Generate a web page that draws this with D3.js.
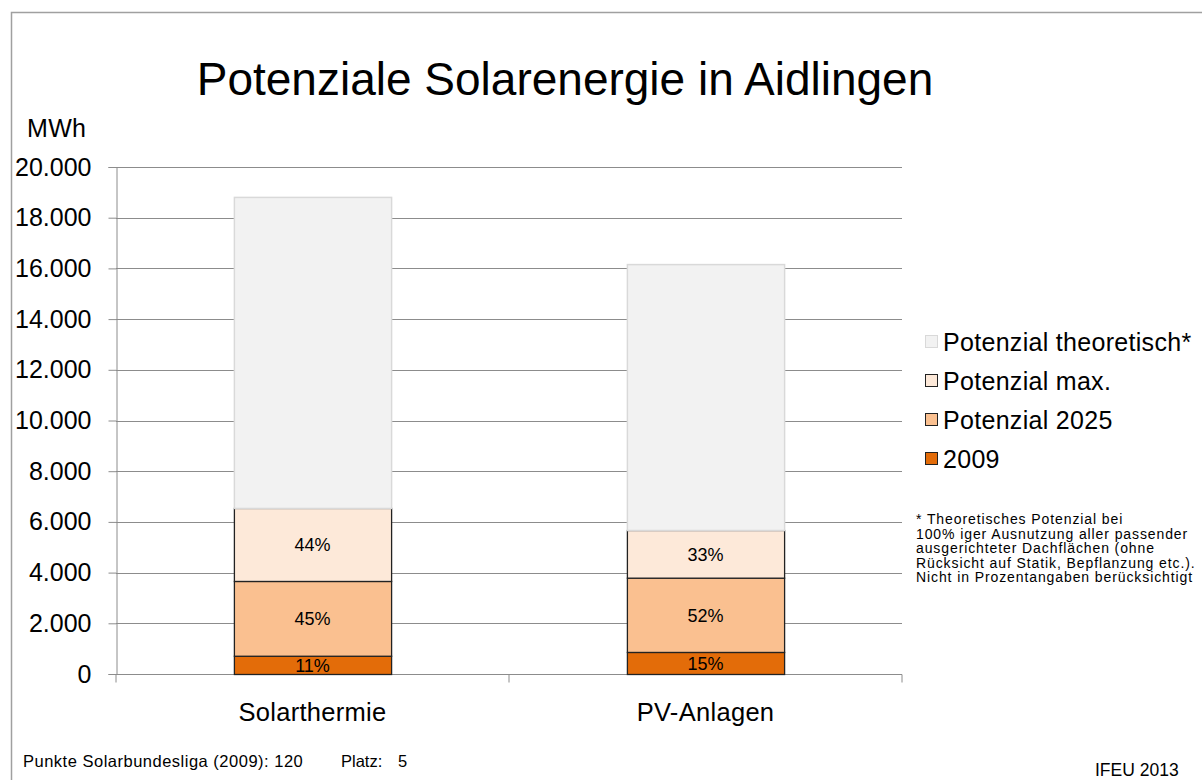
<!DOCTYPE html>
<html>
<head>
<meta charset="utf-8">
<script src="https://cdn.jsdelivr.net/npm/d3@7"></script>
<style>
  body { margin: 0; background: #fff; }
  svg { font-family: "Liberation Sans", Arial, sans-serif; }
</style>
</head>
<body>
<svg width="1202" height="780"></svg>
<script>
// data (MWh per segment)
const categories = ["Solarthermie", "PV-Anlagen"];
const series = ["2009", "Potenzial 2025", "Potenzial max.", "Potenzial theoretisch*"];
const val2009 = [720, 870];
const valPot2025 = [2950, 2930];
const valPotMax = [2880, 1880];
const valTheoretisch = [12270, 10490];
const yTicks = [0, 2000, 4000, 6000, 8000, 10000, 12000, 14000, 16000, 18000, 20000];
const footnote = [
  "* Theoretisches Potenzial bei",
  "100% iger Ausnutzung aller passender",
  "ausgerichteter Dachflächen (ohne",
  "Rücksicht auf Statik, Bepflanzung etc.).",
  "Nicht in Prozentangaben berücksichtigt"
];

const colors = ["#E36C09", "#FAC090", "#FDE9D9", "#F2F2F2"];
const strokes = ["#222", "#222", "#222", "#D9D9D9"];

const svg = d3.select("svg");

// frame
svg.append("path")
  .attr("d", "M11.5,780 V12.5 H1202")
  .attr("fill", "none").attr("stroke", "#A0A0A0").attr("stroke-width", 1.5);

svg.append("text")
  .attr("x", 565).attr("y", 95)
  .attr("text-anchor", "middle")
  .attr("font-size", 46)
  .text("Potenziale Solarenergie in Aidlingen");

const plotL = 116, plotR = 902, plotT = 167, plotB = 674;

const x = d3.scaleBand().domain(categories).range([plotL, plotR])
  .paddingInner(0.6).paddingOuter(0.3);
const y = d3.scaleLinear().domain([0, 20000]).range([plotB, plotT]);

// grid lines
svg.append("g").selectAll("line")
  .data(yTicks.slice(1))
  .enter().append("line")
  .attr("x1", plotL).attr("x2", plotR)
  .attr("y1", d => Math.round(y(d)) + 0.5).attr("y2", d => Math.round(y(d)) + 0.5)
  .attr("stroke", "#8C8C8C");

// y axis
const yAxis = svg.append("g")
  .attr("transform", "translate(" + (plotL + 0.5) + ",0)")
  .call(d3.axisLeft(y).tickValues(yTicks).tickSize(8).tickPadding(17)
    .tickFormat(d => d3.format(",")(d).replace(/,/g, ".")));
yAxis.select(".domain").attr("stroke", "#8C8C8C");
yAxis.selectAll(".tick line").attr("stroke", "#8C8C8C");
yAxis.selectAll(".tick text").attr("font-size", 25).attr("fill", "#000")
  .attr("font-family", "Liberation Sans, Arial, sans-serif");

svg.append("text").attr("x", 27).attr("y", 137)
  .attr("font-size", 25).attr("letter-spacing", 0.3).text("MWh");

// x axis
const xAxisG = svg.append("g").attr("transform", "translate(0," + (plotB + 0.5) + ")");
xAxisG.append("line").attr("x1", plotL).attr("x2", plotR).attr("stroke", "#8C8C8C");
xAxisG.selectAll(".xt").data([plotL, (plotL + plotR) / 2, plotR])
  .enter().append("line")
  .attr("x1", d => d).attr("x2", d => d).attr("y1", 0).attr("y2", 8)
  .attr("stroke", "#8C8C8C");
xAxisG.selectAll(".xl").data(categories)
  .enter().append("text")
  .attr("x", d => x(d) + x.bandwidth() / 2)
  .attr("y", 46)
  .attr("text-anchor", "middle").attr("font-size", 25.5).attr("letter-spacing", 0.3)
  .text(d => d);

// stacked data
const rows = categories.map((c, i) => ({
  cat: c,
  "2009": val2009[i],
  "Potenzial 2025": valPot2025[i],
  "Potenzial max.": valPotMax[i],
  "Potenzial theoretisch*": valTheoretisch[i]
}));
const stacked = d3.stack().keys(series)(rows);

stacked.forEach(function(layer, li) {
  const g = svg.append("g");
  g.selectAll("rect").data(layer).enter().append("rect")
    .attr("x", d => x(d.data.cat) + 0.5)
    .attr("y", d => y(d[1]) + 0.5)
    .attr("width", x.bandwidth())
    .attr("height", d => y(d[0]) - y(d[1]))
    .attr("fill", colors[li])
    .attr("stroke", strokes[li]).attr("stroke-width", li < 3 ? 1.3 : 1.5);
});

// percentage labels (theoretical part not included)
stacked.slice(0, 3).forEach(function(layer) {
  svg.append("g").selectAll("text").data(layer).enter().append("text")
    .attr("x", d => x(d.data.cat) + x.bandwidth() / 2)
    .attr("y", d => (y(d[0]) + y(d[1])) / 2 + 7)
    .attr("text-anchor", "middle").attr("font-size", 18)
    .text(function(d) {
      const total = d.data["2009"] + d.data["Potenzial 2025"] + d.data["Potenzial max."];
      return Math.round((d[1] - d[0]) / total * 100) + "%";
    });
});

// legend
const legendOrder = series.slice().reverse();
const leg = svg.append("g").selectAll("g").data(legendOrder).enter().append("g")
  .attr("transform", (d, i) => "translate(925," + (342 + i * 39) + ")");
leg.append("rect")
  .attr("x", 0.5).attr("y", -6.5).attr("width", 12).attr("height", 12)
  .attr("fill", d => colors[series.indexOf(d)])
  .attr("stroke", d => d === "Potenzial theoretisch*" ? "#D9D9D9" : "#222");
leg.append("text").attr("x", 18).attr("y", 9)
  .attr("font-size", 25).attr("letter-spacing", 0.3).text(d => d);

// footnote
svg.append("g").selectAll("text").data(footnote).enter().append("text")
  .attr("x", 916)
  .attr("y", (d, i) => 524 + i * 14.6)
  .attr("font-size", 14).attr("letter-spacing", 0.9)
  .text(d => d);

// bottom notes
svg.append("text").attr("x", 23).attr("y", 767).attr("font-size", 16.5)
  .attr("letter-spacing", 0.5)
  .text("Punkte Solarbundesliga (2009): 120");
svg.append("text").attr("x", 341).attr("y", 767).attr("font-size", 16.5)
  .text("Platz:");
svg.append("text").attr("x", 398).attr("y", 767).attr("font-size", 16.5)
  .text("5");
svg.append("text").attr("x", 1095).attr("y", 776).attr("font-size", 17.5)
  .text("IFEU 2013");
</script>
</body>
</html>
